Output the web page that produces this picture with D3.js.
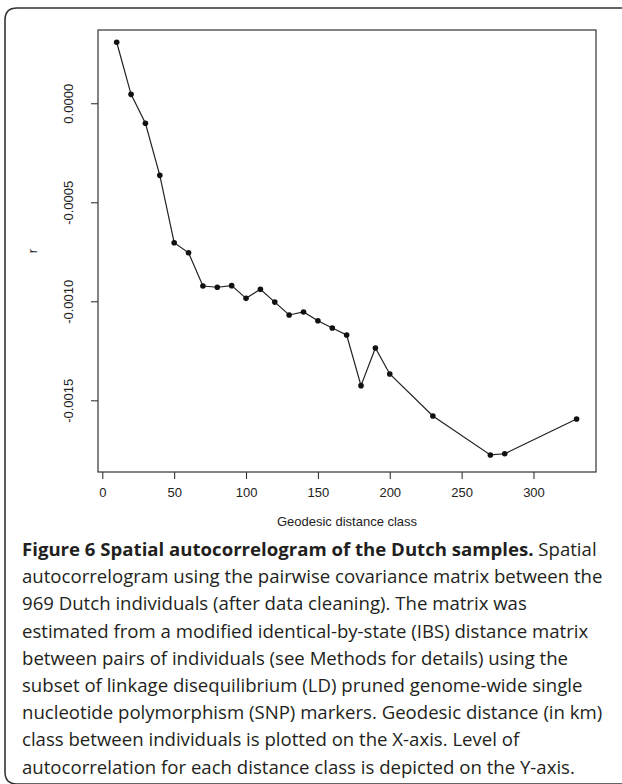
<!DOCTYPE html>
<html>
<head>
<meta charset="utf-8">
<script src="https://cdnjs.cloudflare.com/ajax/libs/d3/7.8.5/d3.min.js"></script>
<style>
  body { margin: 0; background: #fff; }
  svg { display: block; }
  .axis text { font-family: "Liberation Sans", Arial, sans-serif; font-size: 13px; fill: #222; }
  .caption { font-family: "Open Sans", "Noto Sans", sans-serif; font-size: 18.6px; fill: #231f20; }
</style>
</head>
<body>
<svg id="chart" width="622" height="784"></svg>
<script>
// distance classes (km) and autocorrelation r
var distClass = [10, 20, 30, 40, 50, 60, 70, 80, 90, 100, 110, 120, 130, 140, 150, 160, 170, 180, 190, 200, 230, 270, 280, 330];
var rValue = [0.000308, 0.000045, -0.000101, -0.000364, -0.000704, -0.000755, -0.000923, -0.000929, -0.000921,
  -0.000985, -0.000939, -0.001004, -0.001069, -0.001054, -0.001098, -0.001135, -0.001170, -0.001426,
  -0.001236, -0.001367, -0.001579, -0.001776, -0.001770, -0.001594];
var xTicks = [0, 50, 100, 150, 200, 250, 300];
var yTicks = [0, -0.0005, -0.0010, -0.0015];

var captionLines = [
  "autocorrelogram using the pairwise covariance matrix between the",
  "969 Dutch individuals (after data cleaning). The matrix was",
  "estimated from a modified identical-by-state (IBS) distance matrix",
  "between pairs of individuals (see Methods for details) using the",
  "subset of linkage disequilibrium (LD) pruned genome-wide single",
  "nucleotide polymorphism (SNP) markers. Geodesic distance (in km)",
  "class between individuals is plotted on the X-axis. Level of",
  "autocorrelation for each distance class is depicted on the Y-axis."
];

var svg = d3.select("#chart");
var box = {left: 98, top: 30, right: 596, bottom: 472}; // plot region

// outer frame with rounded left corners
svg.append("path")
  .attr("d", "M630,8 L17,8 Q5,8 5,20 L5,772 Q5,784 17,784 L630,784")
  .attr("fill", "none")
  .attr("stroke", "#333")
  .attr("stroke-width", 1.6);

var x = d3.scaleLinear()
  .domain([-3, 343.5])
  .range([box.left, box.right]);

var y = d3.scaleLinear()
  .domain([-0.001862, 0.000370])
  .range([box.bottom, box.top]);

// x axis
var xAxis = d3.axisBottom(x)
  .tickValues(xTicks)
  .tickSize(7)
  .tickPadding(9)
  .tickFormat(d3.format("d"));

svg.append("g")
  .attr("class", "axis")
  .attr("transform", "translate(0," + box.bottom + ")")
  .call(xAxis)
  .call(function(g) { g.select(".domain").remove(); })
  .call(function(g) { g.selectAll("line").attr("stroke", "#222"); });

// y axis, labels rotated like R's default
var yAxis = d3.axisLeft(y)
  .tickValues(yTicks)
  .tickSize(7)
  .tickFormat(d3.format(".4f"));

var gy = svg.append("g")
  .attr("class", "axis")
  .attr("transform", "translate(" + box.left + ",0)")
  .call(yAxis);
gy.select(".domain").remove();
gy.selectAll("line").attr("stroke", "#222");
gy.selectAll("text")
  .attr("x", null).attr("dy", null)
  .attr("transform", "translate(-25,0) rotate(-90)")
  .style("text-anchor", "middle")
  .text(function(d) { return d === 0 ? "0.0000" : d3.format(".4f")(d).replace("\u2212", "-"); });

// plot box
svg.append("rect")
  .attr("x", box.left)
  .attr("y", box.top)
  .attr("width", box.right - box.left)
  .attr("height", box.bottom - box.top)
  .attr("fill", "none")
  .attr("stroke", "#333")
  .attr("stroke-width", 1.2);

// axis titles
svg.append("text")
  .attr("x", (box.left + box.right) / 2)
  .attr("y", 526)
  .attr("text-anchor", "middle")
  .style("font-family", "Liberation Sans, Arial, sans-serif")
  .style("font-size", "13px")
  .attr("fill", "#222")
  .text("Geodesic distance class");

svg.append("text")
  .attr("transform", "translate(37," + ((box.top + box.bottom) / 2) + ") rotate(-90)")
  .attr("text-anchor", "middle")
  .style("font-family", "Liberation Sans, Arial, sans-serif")
  .style("font-size", "13px")
  .attr("fill", "#222")
  .text("r");

// line and points
var pts = distClass.map(function(d, i) { return [d, rValue[i]]; });

svg.append("path")
  .datum(pts)
  .attr("fill", "none")
  .attr("stroke", "#222")
  .attr("stroke-width", 1.2)
  .attr("d", d3.line()
    .x(function(d) { return x(d[0]); })
    .y(function(d) { return y(d[1]); }));

svg.selectAll("circle.pt")
  .data(pts)
  .enter().append("circle")
  .attr("class", "pt")
  .attr("cx", function(d) { return x(d[0]); })
  .attr("cy", function(d) { return y(d[1]); })
  .attr("r", 2.8)
  .attr("fill", "#111");

// caption
var capTop = 556, capStep = 27.2;
var cap = svg.append("text")
  .attr("class", "caption")
  .attr("x", 22)
  .attr("y", capTop);
cap.append("tspan")
  .style("font-weight", "bold")
  .text("Figure 6 Spatial autocorrelogram of the Dutch samples.");
cap.append("tspan")
  .text(" Spatial");

svg.selectAll("text.capline")
  .data(captionLines)
  .enter().append("text")
  .attr("class", "caption capline")
  .attr("x", 22)
  .attr("y", function(d, i) { return capTop + (i + 1) * capStep; })
  .text(function(d) { return d; });
</script>
</body>
</html>
